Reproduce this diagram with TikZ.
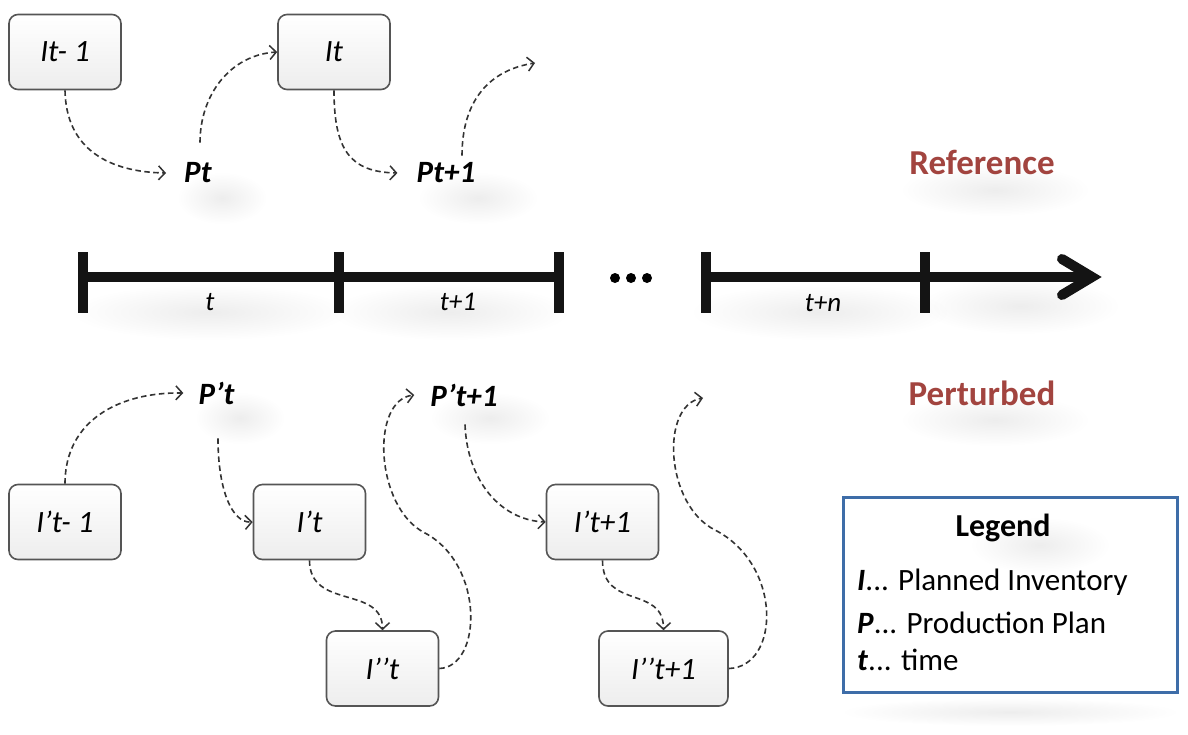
\documentclass[tikz,border=0pt]{standalone}
\usepackage{fontspec}
\setmainfont{Carlito}
\usetikzlibrary{arrows.meta,fadings}
\definecolor{boxline}{HTML}{555555}
\definecolor{connc}{HTML}{333333}
\definecolor{redlbl}{HTML}{A2443F}
\definecolor{legblue}{HTML}{3E6DA8}
\tikzfading[name=softblob, inner color=transparent!0, outer color=transparent!100]
\tikzset{
  ibox/.style={draw=boxline, line width=1.6pt, rounded corners=9pt, top color=white, bottom color=gray!14,
    minimum width=112pt, minimum height=75pt, inner sep=0pt, font=\fontsize{31}{34}\selectfont\itshape},
  plabel/.style={inner sep=2pt, font=\fontsize{31}{34}\selectfont\bfseries\itshape},
  conn/.style={draw=connc, line width=1.6pt, dash pattern=on 5.5pt off 3.5pt,
    -{Straight Barb[length=6.5pt,width=14pt,line width=1.5pt]}},
  tline/.style={draw=black!92, line width=10pt},
  tlabel/.style={inner sep=1pt, font=\fontsize{27}{30}\selectfont\itshape},
  sect/.style={inner sep=1pt, text=redlbl, font=\fontsize{35}{40}\selectfont\bfseries},
  legitem/.style={anchor=west, inner sep=0pt, font=\fontsize{31}{34}\selectfont},
  blob/.style={fill=black, fill opacity=0.07, path fading=softblob},
}
\begin{document}
\begin{tikzpicture}[x=1pt,y=-1pt]
\useasboundingbox (0,0) rectangle (1188,734);
\fill[white] (0,0) rectangle (1188,734);

% ---------- soft shadows ----------
\fill[blob] (210,312) ellipse (140pt and 28pt);
\fill[blob] (450,312) ellipse (120pt and 28pt);
\fill[blob] (820,312) ellipse (130pt and 28pt);
\fill[blob] (1020,306) ellipse (100pt and 28pt);
\fill[blob] (222,198) ellipse (45pt and 26pt);
\fill[blob] (478,198) ellipse (60pt and 26pt);
\fill[blob] (995,190) ellipse (95pt and 26pt);
\fill[blob] (995,420) ellipse (95pt and 26pt);
\fill[blob] (240,418) ellipse (45pt and 26pt);
\fill[blob] (490,418) ellipse (60pt and 26pt);
\fill[blob] (1010,712) ellipse (170pt and 14pt);

% ---------- timeline ----------
\draw[tline] (83,277) -- (559,277);
\draw[tline] (706,277) -- (1088,277);
\foreach \x in {83,339,559,706,925} \draw[tline] (\x,252) -- (\x,313);
\draw[draw=black!92, line width=10pt, line join=miter, line cap=round] (1062,259) -- (1092,277) -- (1062,295);
\foreach \x in {615,631,647} \fill[black] (\x,278) circle (5pt);
\node[tlabel] (lt)  at (210,302) {t};
\node[tlabel] (lt1) at (458,302) {t+1};
\node[tlabel] (ltn) at (823,303) {t+n};

% ---------- section titles ----------
\node[sect] (ref)  at (982,162) {Reference};
\node[sect] (pert) at (982,393) {Perturbed};

% ---------- reference row ----------
\node[ibox] (It1) at (65,52) {It- 1};
\node[ibox] (It)  at (334,52) {It};
\node[plabel] (Pt)  at (198,173) {Pt};
\node[plabel] (Pt1) at (446,173) {Pt+1};
\coordinate (free1) at (535,63);

\draw[conn] (It1.south) .. controls (66,150) and (110,172) .. ([xshift=-16pt]Pt.west);
\draw[conn] ([xshift=2pt,yshift=18pt]Pt.north) .. controls (200,95) and (230,55) .. (It.west);
\draw[conn] (It.south) .. controls (334,150) and (350,172) .. ([xshift=-17pt]Pt1.west);
\draw[conn] ([xshift=16pt,yshift=5pt]Pt1.north) .. controls (462,100) and (490,70) .. (free1);

% ---------- perturbed row ----------
\node[ibox] (Ipt1)   at (65,522)    {I’t- 1};
\node[ibox] (Ipt)    at (309.5,522) {I’t};
\node[ibox] (Ippt)   at (382.5,668.5) {I’’t};
\node[ibox] (Ipt11)  at (602.5,522) {I’t+1};
\node[ibox, minimum width=129pt] (Ippt11) at (663.5,668.5) {I’’t+1};
\node[plabel] (Ppt)  at (216.5,393) {P’t};
\node[plabel] (Ppt1) at (464,395) {P’t+1};
\coordinate (free2) at (703,398);

\draw[conn] (Ipt1.north) .. controls (65,420) and (120,392) .. ([xshift=-13pt]Ppt.west);
\draw[conn] ([xshift=1.5pt,yshift=-32pt]Ppt.south) .. controls (218,490) and (232,523) .. (Ipt.west);
\draw[conn] (Ipt.south) .. controls (309.5,610) and (382.5,585) .. (Ippt.north);
\draw[conn] (Ippt.east) .. controls (482,667) and (485,565) .. (425,533)
   .. controls (375,508) and (370,400) .. ([xshift=-14pt]Ppt1.west);
\draw[conn] ([xshift=1pt,yshift=-16pt]Ppt1.south) .. controls (467,480) and (500,520) .. (Ipt11.west);
\draw[conn] (Ipt11.south) .. controls (602.5,610) and (663.5,585) .. (Ippt11.north);
\draw[conn] (Ippt11.east) .. controls (780,667) and (783,565) .. (715,530)
   .. controls (665,505) and (660,405) .. (free2);

% ---------- legend ----------
\node[draw=legblue, line width=3pt, fill=white, minimum width=334pt, minimum height=195pt] (leg) at (1010,594.5) {};
\fill[blob] (1040,545) ellipse (70pt and 28pt);
\node[inner sep=0pt, font=\fontsize{32}{36}\selectfont\bfseries] (legt) at (1003,528) {Legend};
\node[legitem] (legI) at (857,582) {\textbf{\textit{I}}... Planned Inventory};
\node[legitem] (legP) at (857,623) {\textbf{\textit{P}}... Production Plan};
\node[legitem] (legT) at (857,660) {\textbf{\textit{t}}... time};
\end{tikzpicture}
\end{document}
